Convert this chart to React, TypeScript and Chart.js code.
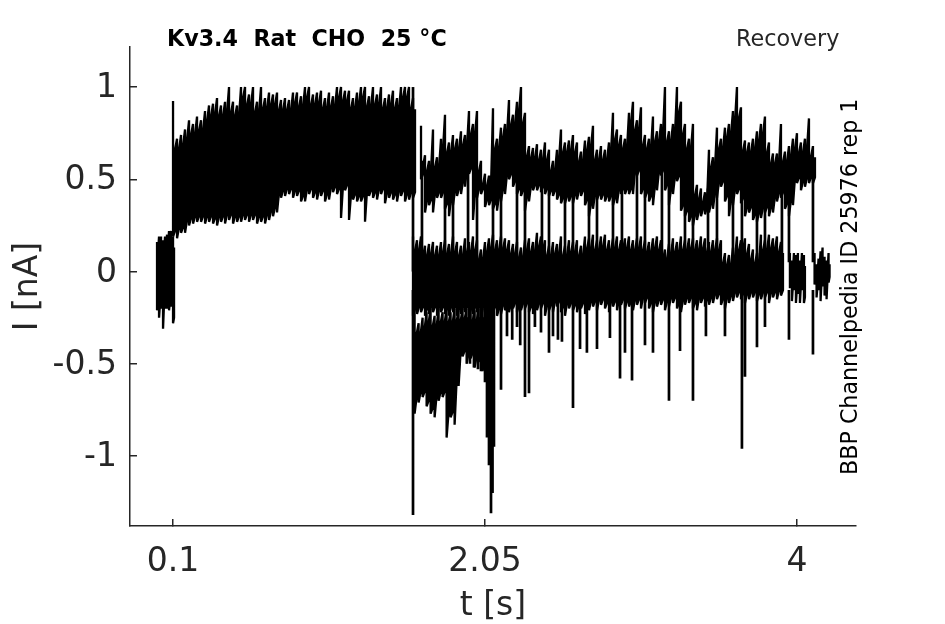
import React, { useEffect, useRef } from "react";
import { Chart, registerables } from "chart.js";

Chart.register(...registerables);

const FONT = "'DejaVu Sans'";
const INK = "#262626";

// Recording segments: each has start time, sampling step [s], upper and lower read-off current [nA]
const preStart = 0.0;
const preStep = 0.0125;
const preTop = [0.16, 0.19, 0.19, 0.17, 0.19, 0.2, 0.22, 0.22, 0.19];
const preBottom = [-0.21, -0.25, -0.2, -0.31, -0.2, -0.2, -0.21, -0.19, -0.28];

const openStart = 0.1;
const openStep = 0.025;
const openTop = [
  0.925, 0.72, 0.74, 0.77, 0.82, 0.8, 0.84, 0.82, 0.87, 0.9,
  0.91, 0.94, 0.9, 0.92, 1.0, 0.92, 0.9, 1.0, 1.0, 0.96,
  1.0, 0.92, 1.0, 0.94, 0.97, 0.96, 0.97, 0.93, 0.94, 0.93,
  0.97, 0.97, 0.95, 1.0, 1.0, 0.96, 0.97, 0.98, 0.94, 0.97,
  0.95, 1.0, 1.0, 0.98, 0.98, 0.94, 0.97, 1.0, 1.0, 0.95,
  1.0, 0.96, 1.0, 0.94, 0.96, 0.98, 0.94, 1.0, 1.0, 1.0, 0.94,
];
const openBottom = [
  0.19, 0.18, 0.21, 0.21, 0.25, 0.26, 0.27, 0.27, 0.26, 0.27,
  0.26, 0.25, 0.27, 0.26, 0.28, 0.26, 0.27, 0.27, 0.28, 0.27,
  0.28, 0.26, 0.27, 0.26, 0.28, 0.3, 0.32, 0.4, 0.41, 0.42,
  0.4, 0.41, 0.38, 0.38, 0.42, 0.4, 0.39, 0.41, 0.38, 0.39,
  0.43, 0.42, 0.29, 0.44, 0.28, 0.39, 0.38, 0.38, 0.27, 0.41,
  0.4, 0.39, 0.42, 0.37, 0.4, 0.39, 0.38, 0.41, 0.38, 0.39, 0.4,
];

const baseStart = 1.6;
const baseStep = 0.025;
const baseTop = [
  0.19, 0.17, 0.19, 0.14, 0.15, 0.16, 0.14, 0.16, 0.17, 0.15,
  0.19, 0.16, 0.14, 0.18, 0.16, 0.19, 0.17, 0.12, 0.16, 0.18,
  0.2, 0.17, 0.19, 0.18, 0.17, 0.15, 0.16, 0.13, 0.17, 0.18,
  0.16, 0.21, 0.19, 0.17, 0.14, 0.16, 0.15, 0.19, 0.14, 0.17,
  0.16, 0.17, 0.14, 0.19, 0.18, 0.2, 0.17, 0.19, 0.2, 0.17,
  0.18, 0.19, 0.17, 0.18, 0.19, 0.17, 0.18, 0.19, 0.17, 0.16,
  0.18, 0.19, 0.17, 0.12, 0.15, 0.18, 0.16, 0.19, 0.17, 0.18,
  0.18, 0.17, 0.19, 0.18, 0.16, 0.17, 0.18, 0.17, 0.1, 0.09,
  0.13, 0.19, 0.17, 0.18, 0.15, 0.12, 0.1, 0.2, 0.17, 0.2,
  0.18, 0.19, 0.16,
];
const baseBottom = [
  -0.24, -0.23, -0.22, -0.24, -0.23, -0.22, -0.24, -0.22, -0.23, -0.24,
  -0.22, -0.24, -0.23, -0.22, -0.24, -0.23, -0.22, -0.24, -0.22, -0.23,
  -0.22, -0.24, -0.23, -0.21, -0.22, -0.2, -0.22, -0.21, -0.2, -0.22,
  -0.23, -0.21, -0.2, -0.24, -0.21, -0.22, -0.19, -0.22, -0.24, -0.2,
  -0.21, -0.22, -0.2, -0.23, -0.21, -0.19, -0.21, -0.18, -0.2, -0.22,
  -0.19, -0.21, -0.18, -0.2, -0.19, -0.21, -0.18, -0.2, -0.17, -0.2,
  -0.22, -0.19, -0.18, -0.21, -0.19, -0.17, -0.2, -0.22, -0.18, -0.17,
  -0.2, -0.21, -0.17, -0.19, -0.18, -0.17, -0.15, -0.18, -0.2, -0.17,
  -0.16, -0.14, -0.15, -0.17, -0.15, -0.14, -0.16, -0.15, -0.14, -0.17,
  -0.14, -0.15, -0.13,
];

const upperStart = 1.65;
const upperStep = 0.025;
const upperTop = [
  0.79, 0.63, 0.6, 0.77, 0.62, 0.72, 0.85, 0.7, 0.74, 0.72,
  0.76, 0.74, 0.87, 0.8, 0.87, 0.6, 0.53, 0.52, 0.885, 0.72,
  0.78, 0.8, 0.93, 0.85, 0.92, 1.0, 0.86, 0.68, 0.67, 0.69,
  0.66, 0.7, 0.66, 0.6, 0.66, 0.77, 0.7, 0.71, 0.74, 0.7,
  0.65, 0.71, 0.73, 0.79, 0.66, 0.68, 0.66, 0.7, 0.86, 0.77,
  0.74, 0.72, 0.86, 0.92, 0.82, 0.89, 0.74, 0.72, 0.84, 0.76,
  0.8, 1.0, 0.76, 0.8, 1.0, 0.92, 0.8, 0.72, 0.8, 0.47,
  0.45, 0.43, 0.66, 0.62, 0.78, 0.72, 0.78, 0.8, 0.87, 1.0,
  0.89, 0.71, 0.7, 0.72, 0.76, 0.8, 0.84, 0.7, 0.64, 0.64,
  0.8, 0.65, 0.68, 0.72, 0.75, 0.7, 0.72, 0.83, 0.68,
];
const upperBottom = [
  0.5, 0.32, 0.36, 0.32, 0.4, 0.4, 0.34, 0.3, 0.36, 0.41,
  0.42, 0.46, 0.53, 0.28, 0.4, 0.42, 0.35, 0.36, 0.34, 0.33,
  0.38, 0.42, 0.5, 0.46, 0.42, 0.41, 0.33, 0.38, 0.44, 0.44,
  0.43, 0.42, 0.41, 0.41, 0.39, 0.37, 0.37, 0.38, 0.37, 0.39,
  0.41, 0.36, 0.3, 0.34, 0.39, 0.39, 0.38, 0.38, 0.36, 0.37,
  0.42, 0.42, 0.42, 0.42, 0.52, 0.42, 0.4, 0.38, 0.36, 0.44,
  0.52, 0.44, 0.36, 0.42, 0.49, 0.33, 0.3, 0.27, 0.25, 0.28,
  0.3, 0.31, 0.32, 0.34, 0.4, 0.46, 0.38, 0.3, 0.36, 0.42,
  0.37, 0.3, 0.32, 0.28, 0.27, 0.29, 0.32, 0.3, 0.32, 0.38,
  0.4, 0.34, 0.3, 0.36, 0.48, 0.44, 0.46, 0.48, 0.48,
];

const lowStart = 1.61;
const lowStep = 0.025;
const lowTop = [
  -0.2, -0.28, -0.25, -0.22, -0.2, -0.24, -0.2, -0.22, -0.2, -0.22,
  -0.2, -0.21, -0.2, -0.2, -0.2, -0.21, -0.2, -0.2, -0.2,
];
const lowBottom = [
  -0.77, -0.71, -0.68, -0.73, -0.77, -0.79, -0.7, -0.68, -0.9, -0.79,
  -0.83, -0.62, -0.46, -0.5, -0.47, -0.52, -0.49, -0.54, -0.5,
];

const tailStartA = 3.956;
const tailStepA = 0.0125;
const tailTopA = [0.1, 0.06, 0.1, 0.09, 0.1, 0.06, 0.1, 0.09];
const tailBottomA = [-0.09, -0.16, -0.1, -0.17, -0.12, -0.17, -0.1, -0.17];
const tailStartB = 4.11;
const tailStepB = 0.0125;
const tailTopB = [0.1, 0.04, 0.07, 0.11, 0.13, 0.08, 0.06, 0.1];
const tailBottomB = [-0.07, -0.14, -0.1, -0.16, -0.08, -0.13, -0.15, -0.06];

// Open/close transitions of the repeated pulses
const jumpTimes = [
  1.656, 1.8, 1.85, 1.944, 2.0, 2.1, 2.15, 2.25, 2.3, 2.406,
  2.45, 2.55, 2.6, 2.7, 2.75, 2.85, 2.906, 3.0, 3.05, 3.156,
  3.2, 3.3, 3.35, 3.444, 3.5, 3.6, 3.656, 3.75, 3.8, 3.906, 3.95, 4.1,
];
const jumpLow = [
  0.05, 0.05, 0.05, 0.05, 0.05, 0.05, 0.05, 0.05, 0.05, 0.05,
  0.05, 0.05, 0.05, 0.05, 0.05, 0.05, 0.05, 0.05, 0.05, 0.05,
  0.05, 0.05, 0.05, 0.05, 0.05, 0.05, 0.05, 0.05, 0.05, 0.05, 0.05, 0.05,
];
const jumpHigh = [
  0.6, 0.55, 0.55, 0.55, 0.55, 0.5, 0.55, 0.55, 0.55, 0.55,
  0.55, 0.55, 0.55, 0.55, 0.55, 0.55, 0.55, 0.55, 0.55, 0.55,
  0.55, 0.55, 0.4, 0.45, 0.55, 0.55, 0.55, 0.55, 0.55, 0.55, 0.55, 0.55,
];

// Downward spikes
const dipTimes = [
  1.6, 1.956, 1.981, 2.006, 2.025, 2.05, 2.0625, 2.075, 2.0875, 2.097, 2.106, 2.15,
  2.1875, 2.22, 2.25, 2.27, 2.3, 2.325, 2.362, 2.4, 2.45, 2.475, 2.506, 2.531,
  2.6, 2.644, 2.687, 2.75, 2.831, 2.894, 2.925, 2.969, 3.05, 3.1, 3.2, 3.269,
  3.35, 3.431, 3.55, 3.656, 3.675, 3.75, 3.8, 3.95, 4.1,
];
const dipDepths = [
  -1.32, -0.5, -0.52, -0.53, -0.54, -0.6, -0.9, -1.05, -1.31, -1.2, -0.95, -0.64,
  -0.35, -0.37, -0.3, -0.4, -0.68, -0.66, -0.3, -0.33, -0.44, -0.35, -0.37, -0.38,
  -0.74, -0.42, -0.44, -0.42, -0.36, -0.58, -0.44, -0.59, -0.4, -0.44, -0.7, -0.43,
  -0.7, -0.35, -0.35, -0.96, -0.57, -0.41, -0.3, -0.37, -0.45,
];

// Labels
const xTicks = [0.1, 2.05, 4];
const xTickLabels = ["0.1", "2.05", "4"];
const yTicks = [-1, -0.5, 0, 0.5, 1];
const yTickLabels = ["-1", "-0.5", "0", "0.5", "1"];
const titleLeft = "Kv3.4  Rat  CHO  25 °C";
const titleRight = "Recovery";
const sideNote = "BBP Channelpedia ID 25976 rep 1";

// Dense up/down trace: a full swing at each sample, and a shorter swing half a step later.
const edgeNotch = 0.06;
function band(start: number, step: number, top: number[], bottom: number[]) {
  const pts: { x: number; y: number }[] = [];
  top.forEach((v, i) => {
    const t = start + i * step;
    const j = Math.min(i + 1, top.length - 1);
    pts.push({ x: t, y: v });
    pts.push({ x: t, y: bottom[i] });
    pts.push({ x: t + step / 2, y: Math.max(bottom[i], bottom[j]) + edgeNotch / 2 });
    pts.push({ x: t + step / 2, y: Math.min(v, top[j]) - edgeNotch });
  });
  return pts;
}

function strokes(times: number[], from: number[], to: number[]) {
  const pts: ({ x: number; y: number | null })[] = [];
  times.forEach((t, i) => {
    pts.push({ x: t, y: from[i] });
    pts.push({ x: t, y: to[i] });
    pts.push({ x: t, y: null });
  });
  return pts;
}

const annotations = {
  id: "annotations",
  afterDraw(chart: Chart) {
    const c = chart.ctx;
    c.save();
    c.fillStyle = "#000";
    c.textBaseline = "alphabetic";
    c.textAlign = "left";
    c.font = `bold 22.2px ${FONT}`;
    c.fillText(titleLeft, 167, 46);
    c.font = `22.3px ${FONT}`;
    c.fillStyle = INK;
    c.fillText(titleRight, 736, 46);
    c.translate(857, 475);
    c.rotate(-Math.PI / 2);
    c.font = `22.2px ${FONT}`;
    c.fillStyle = "#000";
    c.fillText(sideNote, 0, 0);
    c.restore();
  },
};

export default function App() {
  const ref = useRef<HTMLCanvasElement>(null);
  useEffect(() => {
    document.body.style.margin = "0";
    const zeros = dipTimes.map(() => -0.1);
    const line = (data: any[], borderWidth = 2.3) => ({
      data,
      showLine: true,
      pointRadius: 0,
      borderColor: "#000",
      borderWidth,
      borderJoinStyle: "bevel",
      spanGaps: false,
      tension: 0,
    });
    const chart = new Chart(ref.current!, {
      type: "scatter",
      data: {
        datasets: [
          line(band(preStart, preStep, preTop, preBottom)),
          line(band(openStart, openStep, openTop, openBottom)),
          line(band(upperStart, upperStep, upperTop, upperBottom)),
          line(band(lowStart, lowStep, lowTop, lowBottom)),
          line(band(baseStart, baseStep, baseTop, baseBottom)),
          line(band(tailStartA, tailStepA, tailTopA, tailBottomA)),
          line(band(tailStartB, tailStepB, tailTopB, tailBottomB)),
          line(strokes(jumpTimes, jumpLow, jumpHigh), 2.7),
          line(strokes(dipTimes, zeros, dipDepths), 2.7),
          line(strokes([1.6], [0], [1]), 2.7),
        ],
      },
      options: {
        responsive: false,
        animation: false,
        devicePixelRatio: 1,
        layout: { padding: { left: 0, right: 89, top: 47, bottom: 0 } },
        plugins: { legend: { display: false }, tooltip: { enabled: false } },
        scales: {
          x: {
            type: "linear",
            min: -0.169,
            max: 4.369,
            afterFit: (s: any) => { s.height = 98; },
            afterBuildTicks: (s: any) => { s.ticks = xTicks.map((value) => ({ value })); },
            ticks: {
              autoSkip: false,
              maxRotation: 0,
              color: INK,
              padding: 24,
              font: { family: FONT, size: 33 },
              callback: (v: any) => xTickLabels[xTicks.indexOf(v)] ?? "",
            },
            grid: { drawOnChartArea: false, tickLength: -7, color: INK, lineWidth: 1.5 },
            border: { color: INK, width: 1.5 },
            title: {
              display: true,
              text: "t [s]",
              color: INK,
              font: { family: FONT, size: 33 },
              padding: { top: 0, bottom: -2 },
            },
          },
          y: {
            type: "linear",
            min: -1.379,
            max: 1.217,
            afterFit: (s: any) => { s.width = 130; },
            afterBuildTicks: (s: any) => { s.ticks = yTicks.map((value) => ({ value })); },
            ticks: {
              autoSkip: false,
              color: INK,
              padding: 20,
              labelOffset: 1.5,
              font: { family: FONT, size: 33 },
              callback: (v: any) => yTickLabels[yTicks.indexOf(v)] ?? "",
            },
            grid: { drawOnChartArea: false, tickLength: -7, color: INK, lineWidth: 1.5 },
            border: { color: INK, width: 1.5 },
            title: {
              display: true,
              text: "I [nA]",
              color: INK,
              font: { family: FONT, size: 33 },
              padding: { top: 9, bottom: 0 },
            },
          },
        },
      },
      plugins: [annotations],
    } as any);
    return () => chart.destroy();
  }, []);
  return <canvas ref={ref} width={945} height={624} style={{ display: "block", width: 945, height: 624 }} />;
}
